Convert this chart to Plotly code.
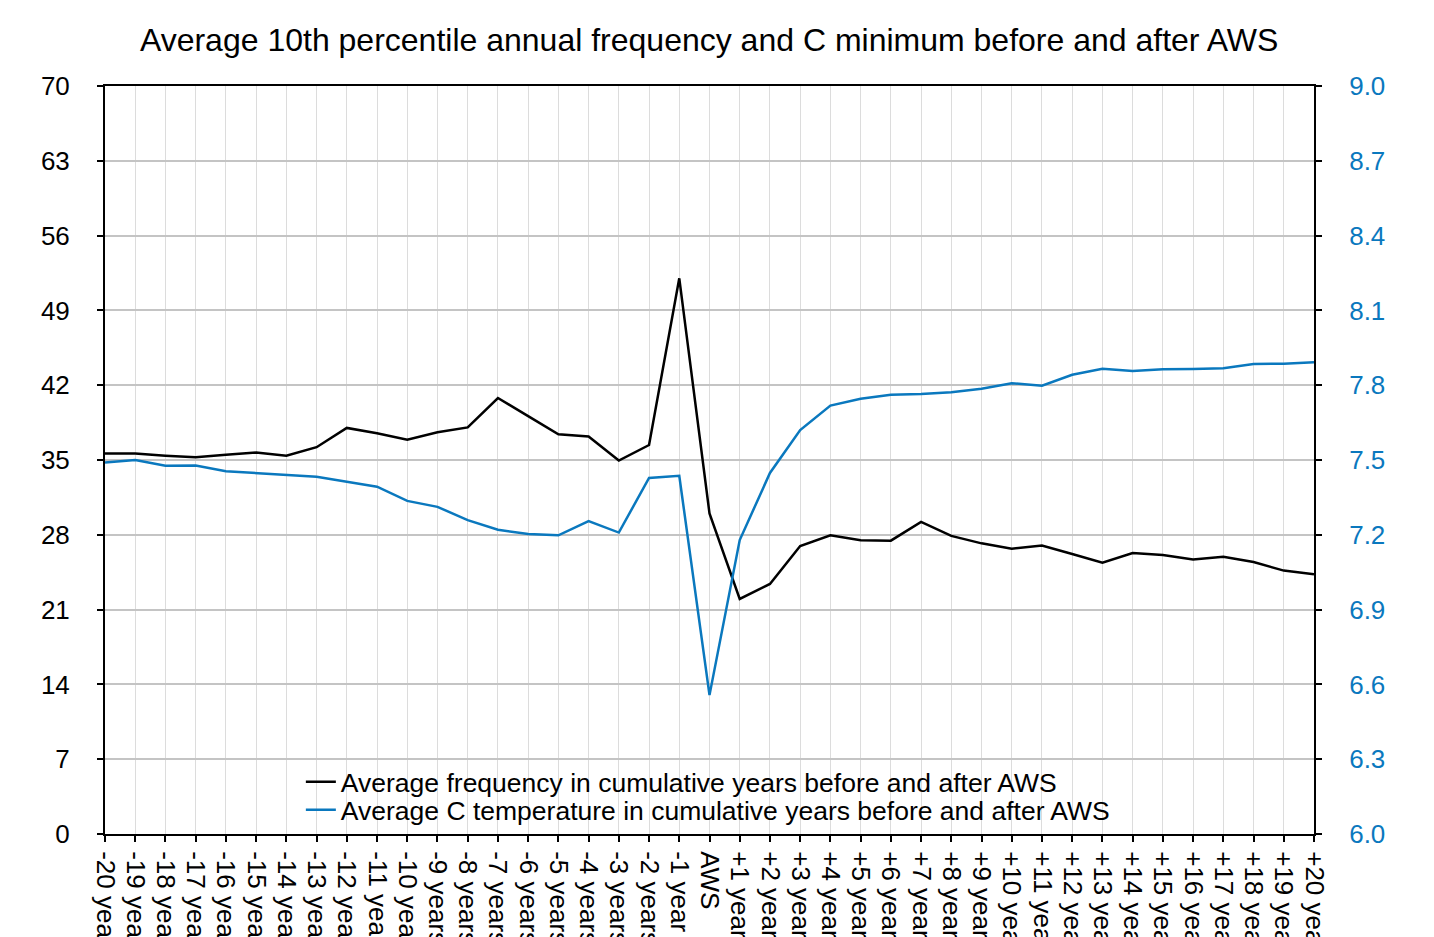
import plotly.graph_objects as go

# Category labels: 20 years before, AWS year, 20 years after
before = [f"-{i} years" for i in range(20, 0, -1)]
after = [f"+{i} years" for i in range(1, 21)]
categories = before[:-1] + ["-1 year", "AWS"] + ["+1 year"] + after[1:]

# Average frequency (left axis)
frequency = [
    35.6, 35.6, 35.4, 35.25, 35.5, 35.7, 35.4, 36.2, 38.0, 37.5,
    36.9, 37.6, 38.05, 40.8, 39.1, 37.4, 37.2, 34.95, 36.4, 52.0,
    30.0,
    22.0, 23.4, 26.95, 27.95, 27.5, 27.45, 29.2, 27.9, 27.2, 26.7,
    27.0, 26.2, 25.4, 26.3, 26.1, 25.7, 25.95, 25.45, 24.65, 24.3,
]

# Average C temperature (right axis)
temperature = [
    7.49, 7.50, 7.477, 7.478, 7.455, 7.447, 7.441, 7.433, 7.413, 7.393,
    7.336, 7.312, 7.259, 7.22, 7.203, 7.198, 7.255, 7.209, 7.428, 7.437,
    6.557,
    7.179, 7.448, 7.62, 7.718, 7.746, 7.762, 7.765, 7.772, 7.786, 7.808,
    7.798, 7.842, 7.866, 7.857, 7.864, 7.865, 7.868, 7.885, 7.886, 7.892,
]

left_ticks = [0, 7, 14, 21, 28, 35, 42, 49, 56, 63, 70]
right_ticks = [6.0, 6.3, 6.6, 6.9, 7.2, 7.5, 7.8, 8.1, 8.4, 8.7, 9.0]

BLUE = "#0a78be"
FONT = "Liberation Sans, Arial, sans-serif"

fig = go.Figure()
fig.add_trace(go.Scatter(
    x=categories, y=frequency, mode="lines",
    line=dict(color="black", width=2.5),
    name="Average frequency in cumulative years before and after AWS",
    legend="legend",
))
fig.add_trace(go.Scatter(
    x=categories, y=temperature, mode="lines", yaxis="y2",
    line=dict(color=BLUE, width=2.5),
    name="Average C temperature in cumulative years before and after AWS",
    legend="legend2",
))

legend_style = dict(
    x=0.162, xanchor="left", yanchor="middle",
    bgcolor="rgba(0,0,0,0)", font=dict(size=26.5),
)

fig.update_layout(
    width=1434, height=937,
    margin=dict(l=105, r=120, t=86, b=103),
    paper_bgcolor="white", plot_bgcolor="white",
    font=dict(family=FONT, size=26, color="black"),
    title=dict(
        text="Average 10th percentile annual frequency and C minimum before and after AWS",
        x=0.4945, xanchor="center", y=0.957, yanchor="middle",
        font=dict(size=32, color="black"),
    ),
    xaxis=dict(
        type="category", range=[0, 40], automargin=False,
        tickmode="array", tickvals=categories, ticktext=categories,
        tickangle=90, tickfont=dict(size=26), ticklabelstandoff=4,
        showgrid=True, gridcolor="#dcdcdc", gridwidth=1,
        showline=True, linecolor="black", linewidth=2, mirror=True,
        ticks="outside", ticklen=6, tickwidth=2, tickcolor="black",
    ),
    yaxis=dict(
        range=[0, 70], tickvals=left_ticks, automargin=False,
        showgrid=True, gridcolor="#c4c4c4", gridwidth=1.5,
        showline=True, linecolor="black", linewidth=2,
        ticks="outside", ticklen=6, tickwidth=2, tickcolor="black",
        tickfont=dict(size=26), ticklabelstandoff=22, zeroline=False,
    ),
    yaxis2=dict(
        range=[6.0, 9.0], tickvals=right_ticks, tickformat=".1f",
        overlaying="y", side="right", showgrid=False, automargin=False,
        showline=True, linecolor="black", linewidth=2,
        ticks="outside", ticklen=6, tickwidth=2, tickcolor="black",
        tickfont=dict(size=26, color=BLUE), ticklabelstandoff=22,
        zeroline=False,
    ),
    legend=dict(y=0.0695, **legend_style),
    legend2=dict(y=0.032, **legend_style),
    showlegend=True,
)

fig.write_html("out.html")
